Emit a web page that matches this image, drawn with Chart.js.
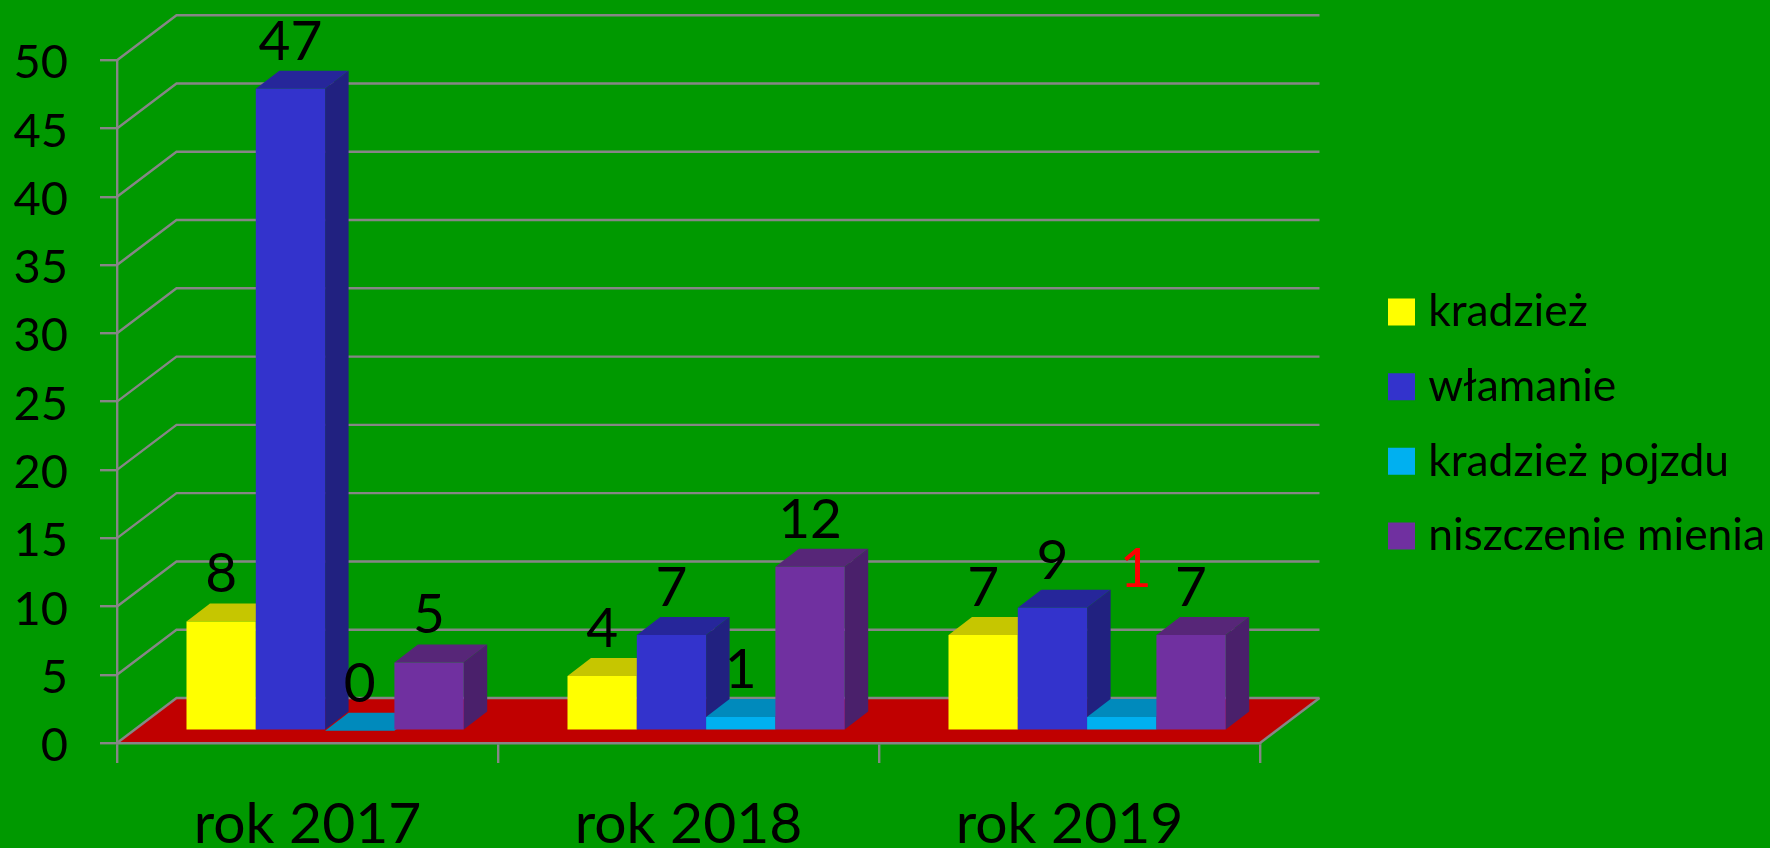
<!DOCTYPE html>
<html>
<head>
<meta charset="utf-8">
<style>html,body{margin:0;padding:0;background:#009900;overflow:hidden}canvas{display:block}</style>
<script src="https://cdn.jsdelivr.net/npm/chart.js@4/dist/chart.umd.min.js"></script>
</head>
<body>
<canvas id="c" width="1770" height="848"></canvas>
<script>
const categories = ['rok 2017', 'rok 2018', 'rok 2019'];
const seriesNames = ['kradzież', 'włamanie', 'kradzież pojzdu', 'niszczenie mienia'];
const kradziez = [8, 4, 7];
const wlamanie = [47, 7, 9];
const kradziezPojazdu = [0, 1, 1];
const niszczenieMienia = [5, 12, 7];
const seriesValues = [kradziez, wlamanie, kradziezPojazdu, niszczenieMienia];
const frontColors = ['#FFFF00', '#3333CC', '#00B0F0', '#7030A0'];
const topColors = ['#C6C600', '#26269A', '#008ABC', '#572678'];
const sideColors = ['#A8A800', '#212180', '#00769F', '#4A206B'];

const GRAY = '#868686';
const LINE = 2.4;
const WALL = { dx: 59.5, dy: 45 };
const FRONT = { dx: 17.6, dy: 12.3 };
const DEPTH = { dx: 23.5, dy: 18 };
const LABEL_FONT = '55px Lato';
const LABEL_GAP = 29;
const SWATCH_STROKE = 18;

const poly = (ctx, pts, fill) => {
  ctx.beginPath();
  pts.forEach((p, i) => i ? ctx.lineTo(p[0], p[1]) : ctx.moveTo(p[0], p[1]));
  ctx.closePath();
  ctx.fillStyle = fill;
  ctx.fill();
};

const scene = {
  id: 'scene',
  beforeLayout(chart) {
    const lg = chart.legend;
    if (lg && !lg._wrapped) {
      const f = lg.fit;
      lg.fit = function () { f.call(this); this.width = 510; };
      lg._wrapped = true;
    }
  },
  afterLayout(chart) {
    const lg = chart.legend;
    lg.left = 1388 + SWATCH_STROKE / 2 - lg.options.labels.padding;
    chart.scales.x.bottom = chart.height;
  },
  beforeDraw(chart) {
    const { ctx, scales: { x, y }, chartArea: a } = chart;
    ctx.save();
    ctx.fillStyle = '#009900';
    ctx.fillRect(0, 0, chart.width, chart.height);
    const y0 = y.getPixelForValue(0);
    poly(ctx, [[a.left, y0], [a.left + WALL.dx, y0 - WALL.dy], [a.right + WALL.dx, y0 - WALL.dy], [a.right, y0]], '#C00000');
    ctx.strokeStyle = GRAY;
    ctx.lineWidth = LINE;
    y.ticks.forEach(t => {
      const py = y.getPixelForValue(t.value);
      ctx.beginPath();
      ctx.moveTo(a.left, py);
      ctx.lineTo(a.left + WALL.dx, py - WALL.dy);
      ctx.lineTo(a.right + WALL.dx, py - WALL.dy);
      ctx.stroke();
    });
    ctx.beginPath();
    ctx.moveTo(a.right, y0);
    ctx.lineTo(a.right + WALL.dx, y0 - WALL.dy);
    ctx.stroke();
    ctx.restore();
  },
  beforeDatasetsDraw(chart) {
    const { ctx } = chart;
    const metas = seriesValues.map((_, i) => chart.getDatasetMeta(i));
    ctx.save();
    categories.forEach((_, c) => {
      metas.forEach((m, s) => {
        const el = m.data[c];
        const l = el.x - el.width / 2 + FRONT.dx;
        const r = el.x + el.width / 2 + FRONT.dx;
        const t = el.y - FRONT.dy;
        const b = el.base - FRONT.dy;
        poly(ctx, [[l, t], [l + DEPTH.dx, t - DEPTH.dy], [r + DEPTH.dx, t - DEPTH.dy], [r, t]], topColors[s]);
        poly(ctx, [[r, t], [r + DEPTH.dx, t - DEPTH.dy], [r + DEPTH.dx, b - DEPTH.dy], [r, b]], sideColors[s]);
        ctx.save();
        ctx.translate(FRONT.dx, -FRONT.dy);
        el.draw(ctx);
        ctx.restore();
      });
    });
    ctx.restore();
    return false;
  },
  afterDraw(chart) {
    const { ctx } = chart;
    ctx.save();
    ctx.font = LABEL_FONT;
    ctx.textAlign = 'center';
    ctx.textBaseline = 'alphabetic';
    seriesValues.forEach((vals, s) => {
      const m = chart.getDatasetMeta(s);
      vals.forEach((v, c) => {
        const el = m.data[c];
        const moved = s === 2 && c === 2;
        ctx.fillStyle = moved ? '#FF0000' : '#000000';
        const px = el.x + FRONT.dx + (moved ? 14 : 0);
        const py = el.y - FRONT.dy - LABEL_GAP - (moved ? 101 : 0);
        ctx.fillText(String(v), px, py);
      });
    });
    ctx.restore();
  }
};

new Chart(document.getElementById('c'), {
  type: 'bar',
  data: {
    labels: categories,
    datasets: seriesValues.map((vals, i) => ({
      label: seriesNames[i],
      data: vals,
      backgroundColor: frontColors[i],
      borderWidth: 0
    }))
  },
  options: {
    responsive: false,
    animation: false,
    devicePixelRatio: 1,
    layout: { padding: { top: 60, bottom: 60, left: 0, right: 0 } },
    categoryPercentage: 0.7276,
    barPercentage: 1,
    plugins: {
      tooltip: { enabled: false },
      legend: {
        position: 'right',
        align: 'center',
        labels: {
          color: '#000000',
          font: { family: 'Lato', size: 44.4 },
          boxWidth: 27 - SWATCH_STROKE,
          boxHeight: 27 - SWATCH_STROKE,
          padding: 30.3,
          generateLabels(chart) {
            return seriesNames.map((n, i) => ({
              text: n, fillStyle: frontColors[i], strokeStyle: frontColors[i], lineWidth: SWATCH_STROKE, datasetIndex: i, fontColor: '#000000'
            }));
          }
        }
      }
    },
    scales: {
      x: {
        afterFit(s) { s.height = 45; },
        grid: { drawOnChartArea: false, drawTicks: true, tickLength: 20, color: GRAY, lineWidth: LINE },
        border: { color: GRAY, width: LINE },
        ticks: { color: '#000000', padding: 27, font: { family: 'Lato', size: 57 }, maxRotation: 0 }
      },
      y: {
        min: 0,
        max: 50,
        afterFit(s) { s.width = 117; },
        grid: { drawOnChartArea: false, drawTicks: true, tickLength: 17, color: GRAY, lineWidth: LINE },
        border: { color: GRAY, width: LINE },
        ticks: { stepSize: 5, color: '#000000', padding: 32, labelOffset: 3, font: { family: 'Lato', size: 47 } }
      }
    }
  },
  plugins: [scene]
});
</script>
</body>
</html>
